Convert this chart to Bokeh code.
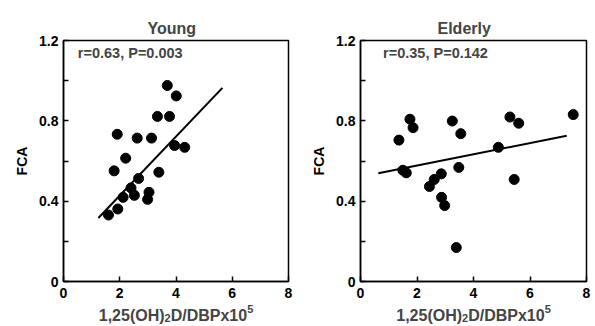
from bokeh.plotting import figure
from bokeh.layouts import row, column
from bokeh.models import Range1d, FixedTicker, Label
from bokeh.embed import file_html
from bokeh.resources import INLINE

# Young
young_x = [1.60, 1.93, 2.12, 1.80, 1.91, 2.21, 2.40, 2.52, 2.67, 2.62,
           3.04, 2.99, 3.13, 3.39, 3.34, 3.77, 3.69, 4.01, 3.95, 4.31]
young_y = [0.331, 0.361, 0.419, 0.551, 0.733, 0.614, 0.466, 0.429, 0.513, 0.714,
           0.444, 0.409, 0.714, 0.544, 0.822, 0.822, 0.976, 0.924, 0.677, 0.668]
young_fit_x = [1.24, 5.65]
young_fit_y = [0.316, 0.964]
young_stats = "r=0.63, P=0.003"

# Elderly
elderly_x = [1.36, 1.50, 1.62, 1.75, 1.86, 2.44, 2.61, 2.86, 2.87, 2.98,
             3.25, 3.39, 3.48, 3.55, 4.88, 5.29, 5.60, 5.44, 7.53]
elderly_y = [0.704, 0.554, 0.541, 0.808, 0.766, 0.473, 0.508, 0.536, 0.419, 0.378,
             0.799, 0.169, 0.568, 0.736, 0.668, 0.819, 0.788, 0.508, 0.831]
elderly_fit_x = [0.63, 7.30]
elderly_fit_y = [0.539, 0.726]
elderly_stats = "r=0.35, P=0.142"

x_ticks = [0, 2, 4, 6, 8]
y_major = [0, 0.4, 0.8, 1.2]
y_minor = [0.2, 0.6, 1.0]
# x-axis title pieces: (text, role) -> "1,25(OH)2D/DBPx10^5"
x_title_parts = [("1,25(OH)", "main"), ("2", "sub"), ("D/DBPx10", "main"), ("5", "sup")]
y_title = "FCA"
FONT = "Liberation Sans"

# Arial / Liberation Sans Bold advance widths (per 1000 em), for laying out the x title
ADV = {'0': 556, '1': 556, '2': 556, '5': 556, ',': 278, '(': 333, ')': 333, 'O': 778,
       'H': 722, 'D': 722, '/': 278, 'B': 722, 'P': 667, 'x': 556}
SIZES = {"main": 16, "sub": 11, "sup": 11}
BASE = {"main": 320.5, "sub": 323.0, "sup": 314.5}  # wanted baselines, page px
STRIP_SHIFT = 6  # measured offset of the title strip's frame

FRAME_TOP, FRAME_BOTTOM = 40, 281
H = 326
TITLE_H = 22          # height of the strip that holds the x-axis title
MAIN_H = H - TITLE_H


def text_w(s, size):
    return sum(ADV[c] for c in s) * size / 1000.0


def panel(title, title_offset, xs, ys, fx, fy, stats, stats_x, width, bl, br):
    frame_w = width - bl - br
    p = figure(width=width, height=MAIN_H, x_range=Range1d(0, 8), y_range=Range1d(0, 1.2),
               output_backend="svg", toolbar_location=None,
               min_border_left=bl, min_border_right=br,
               min_border_top=FRAME_TOP, min_border_bottom=MAIN_H - FRAME_BOTTOM)
    p.title.text = title
    p.title.align = "left"
    p.title.offset = title_offset
    p.title.standoff = 8
    p.title.text_font = FONT
    p.title.text_font_size = "16px"
    p.title.text_font_style = "bold"
    p.grid.visible = False
    p.outline_line_color = "black"
    p.outline_line_width = 1.5
    p.outline_line_alpha = 1.0

    p.xaxis.ticker = FixedTicker(ticks=x_ticks)
    p.yaxis.ticker = FixedTicker(ticks=y_major, minor_ticks=y_minor)
    for ax in (p.xaxis, p.yaxis):
        ax.major_tick_in = 5
        ax.major_tick_out = 0
        ax.minor_tick_in = 5
        ax.minor_tick_out = 0
        ax.axis_line_width = 1.5
        ax.major_tick_line_width = 1.5
        ax.minor_tick_line_width = 1.5
        ax.major_label_text_font = FONT
        ax.major_label_text_font_size = "14px"
        ax.major_label_text_font_style = "bold"
        ax.major_label_text_color = "black"
        ax.axis_label_text_font = FONT
        ax.axis_label_text_font_size = "14px"
        ax.axis_label_text_font_style = "bold"
        ax.axis_label_text_color = "black"
    p.yaxis.axis_label = y_title
    p.yaxis.axis_label_standoff = 6
    p.xaxis.major_label_standoff = 6
    p.yaxis.major_label_standoff = 5

    p.line(fx, fy, line_color="black", line_width=2)
    p.scatter(xs, ys, size=10, fill_color="black", line_color="black")
    p.add_layout(Label(x=stats_x, y=1.14, text=stats, text_baseline="middle",
                       text_font=FONT, text_font_size="14.5px", text_font_style="bold"))

    # strip below holding the x-axis title, with real subscript / superscript.
    # Its frame is aligned with the plot frame above, so it shares the 0..8 x scale.
    t = figure(width=width, height=TITLE_H, x_range=Range1d(0, 8), y_range=Range1d(0, TITLE_H),
               output_backend="svg", toolbar_location=None, x_axis_type=None, y_axis_type=None,
               title=None, min_border_left=bl, min_border_right=br,
               min_border_top=0, min_border_bottom=0)
    t.outline_line_color = None
    t.grid.visible = False
    total = sum(text_w(s, SIZES[r]) for s, r in x_title_parts)
    cur = frame_w / 2.0 - total / 2.0
    for s, r in x_title_parts:
        t.add_layout(Label(x=cur * 8.0 / frame_w, y=H - BASE[r] + STRIP_SHIFT, text=s,
                           text_baseline="alphabetic", text_align="left",
                           text_font=FONT, text_font_size=f"{SIZES[r]}px",
                           text_font_style="bold"))
        cur += text_w(s, SIZES[r])
    return column(p, t, spacing=0)


c1 = panel("Young", 84, young_x, young_y, young_fit_x, young_fit_y, young_stats, 0.51,
           308, 63, 20)
c2 = panel("Elderly", 77, elderly_x, elderly_y, elderly_fit_x, elderly_fit_y, elderly_stats, 0.80,
           287, 52, 9)

layout = row(c1, c2, spacing=0)
open("out.html", "w").write(file_html(layout, INLINE))
